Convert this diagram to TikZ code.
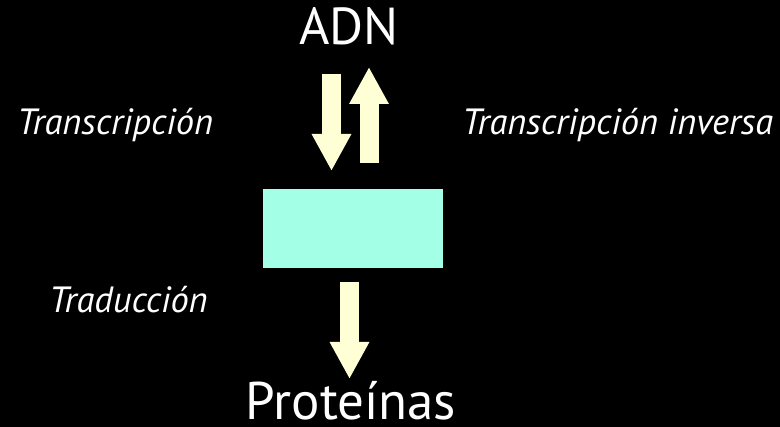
\documentclass[tikz,border=0pt]{standalone}
\usepackage{fontspec}
\setmainfont{PT Sans}
\usepackage{xcolor}
\usetikzlibrary{arrows.meta, positioning}
\definecolor{mintbox}{RGB}{163,255,230}
\definecolor{creamarrow}{RGB}{255,255,214}

\begin{document}
\begin{tikzpicture}[x=1pt, y=-1pt]
    % Styles
    \tikzstyle{title} = [text=white, font=\fontsize{52}{52}\selectfont, inner sep=0pt, anchor=base]
    \tikzstyle{step label} = [text=white, font=\fontsize{36.5}{36.5}\selectfont\itshape, inner sep=0pt, anchor=base west]
    \tikzstyle{rna} = [rectangle, fill=mintbox, minimum width=180pt, minimum height=79pt, inner sep=0pt]
    \tikzstyle{fat} = [draw=creamarrow, line width=19pt, -{Triangle[width=37pt, length=37pt]}]

    % --- BACKGROUND ---
    \fill[black] (0,0) rectangle (780,427);

    % --- NODES ---
    \node [title] (adn) at (349,45) {ADN};
    \node [rna] (box) at (353,228.5) {};
    \node [title, font=\fontsize{53}{53}\selectfont] (prot) at (351,420) {Proteínas};

    % --- ARROW ENDS ---
    \coordinate (down top) at (331.5,74);
    \coordinate (down tip) at (331.5,171);
    \coordinate (up base) at (369,163);
    \coordinate (up tip) at (369,67);
    \coordinate (trans top) at (349.5,282);
    \coordinate (trans tip) at (349.5,379);

    % --- CONNECTIONS ---
    \path [fat] (down top) -- (down tip);
    \path [fat] (up base) -- (up tip);
    \path [fat] (trans top) -- (trans tip);

    % --- LABELS ---
    \node [step label] (tr) at (17,135) {Transcripción};
    \node [step label] (rt) at (462,135) {Transcripción inversa};
    \node [step label] (tl) at (49,313) {Traducción};
\end{tikzpicture}
\end{document}
